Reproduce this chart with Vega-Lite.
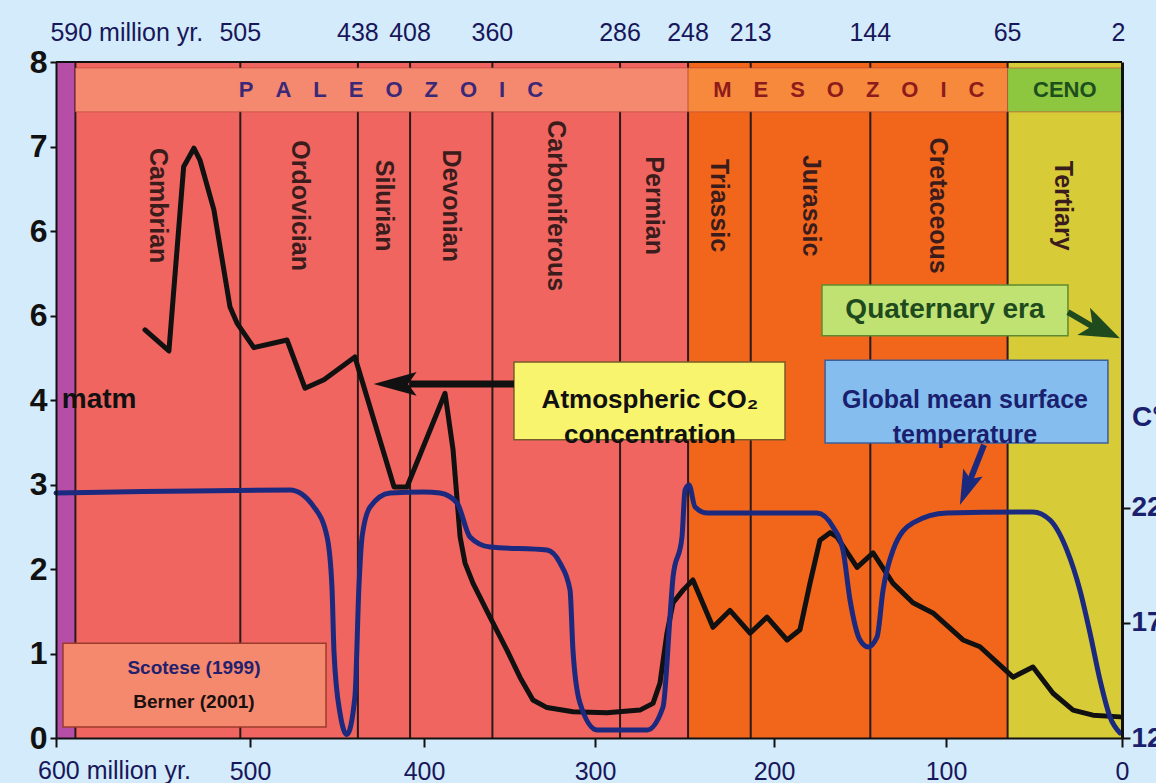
{
  "$schema": "https://vega.github.io/schema/vega-lite/v6.json",
  "width": 1066,
  "height": 676,
  "autosize": {"type": "none"},
  "padding": {"left": 56, "top": 62, "right": 34, "bottom": 45},
  "background": "#d3ebfa",
  "config": {"font": "Liberation Sans, Arial, sans-serif", "view": {"stroke": null}},
  "datasets": {
    "co2": [
      {"age": 554.1, "co2": 4.83}, {"age": 541.8, "co2": 4.58}, {"age": 534.2, "co2": 6.76}, {"age": 528.9, "co2": 6.98},
      {"age": 525.8, "co2": 6.84}, {"age": 518.6, "co2": 6.25}, {"age": 510.3, "co2": 5.10}, {"age": 506.7, "co2": 4.91},
      {"age": 497.8, "co2": 4.62}, {"age": 478.7, "co2": 4.71}, {"age": 468.4, "co2": 4.14}, {"age": 457.5, "co2": 4.24},
      {"age": 439.7, "co2": 4.51}, {"age": 417.2, "co2": 2.97}, {"age": 409.8, "co2": 2.97}, {"age": 387.7, "co2": 4.08},
      {"age": 383.0, "co2": 3.41}, {"age": 378.9, "co2": 2.38}, {"age": 376.0, "co2": 2.07}, {"age": 371.3, "co2": 1.83},
      {"age": 361.4, "co2": 1.43}, {"age": 351.5, "co2": 1.04}, {"age": 343.9, "co2": 0.72}, {"age": 336.3, "co2": 0.45},
      {"age": 328.1, "co2": 0.36}, {"age": 312.9, "co2": 0.31}, {"age": 293.3, "co2": 0.30}, {"age": 274.9, "co2": 0.33},
      {"age": 267.6, "co2": 0.41}, {"age": 263.7, "co2": 0.65}, {"age": 259.8, "co2": 1.24}, {"age": 256.4, "co2": 1.60},
      {"age": 250.8, "co2": 1.75}, {"age": 245.3, "co2": 1.87}, {"age": 234.1, "co2": 1.31}, {"age": 224.6, "co2": 1.51},
      {"age": 213.4, "co2": 1.24}, {"age": 203.9, "co2": 1.43}, {"age": 192.4, "co2": 1.16}, {"age": 184.9, "co2": 1.28},
      {"age": 179.1, "co2": 1.83}, {"age": 173.3, "co2": 2.34}, {"age": 167.4, "co2": 2.43}, {"age": 163.4, "co2": 2.38},
      {"age": 151.7, "co2": 2.02}, {"age": 142.4, "co2": 2.19}, {"age": 130.8, "co2": 1.83}, {"age": 119.2, "co2": 1.60},
      {"age": 107.6, "co2": 1.48}, {"age": 90.3, "co2": 1.16}, {"age": 80.7, "co2": 1.08}, {"age": 61.9, "co2": 0.72},
      {"age": 50.6, "co2": 0.84}, {"age": 39.2, "co2": 0.53}, {"age": 27.8, "co2": 0.33}, {"age": 16.5, "co2": 0.27},
      {"age": 1.1, "co2": 0.25}
    ],
    "temp": [
      {"age": 600, "temp": 22.65}, {"age": 477.0, "temp": 22.78}, {"age": 463.2, "temp": 22.04}, {"age": 455.7, "temp": 20.74},
      {"age": 452.9, "temp": 18.57}, {"age": 451.7, "temp": 15.70}, {"age": 448.3, "temp": 13.09}, {"age": 444.3, "temp": 12.15},
      {"age": 439.7, "temp": 13.78}, {"age": 437.4, "temp": 18.57}, {"age": 435.6, "temp": 20.74}, {"age": 431.0, "temp": 22.04},
      {"age": 419.5, "temp": 22.65}, {"age": 400.0, "temp": 22.70}, {"age": 390.6, "temp": 22.65}, {"age": 380.7, "temp": 22.22},
      {"age": 373.1, "temp": 20.74}, {"age": 361.4, "temp": 20.30}, {"age": 328.1, "temp": 20.17}, {"age": 320.5, "temp": 19.61},
      {"age": 314.6, "temp": 18.43}, {"age": 312.9, "temp": 15.83}, {"age": 308.8, "temp": 13.52}, {"age": 298.9, "temp": 12.35},
      {"age": 270.9, "temp": 12.35}, {"age": 262.0, "temp": 13.35}, {"age": 258.1, "temp": 17.26}, {"age": 256.4, "temp": 19.0},
      {"age": 251.4, "temp": 20.74}, {"age": 249.7, "temp": 22.78}, {"age": 247.5, "temp": 23.0}, {"age": 244.1, "temp": 22.04},
      {"age": 237.4, "temp": 21.78}, {"age": 224.6, "temp": 21.78}, {"age": 175.0, "temp": 21.78}, {"age": 165.7, "temp": 21.17},
      {"age": 159.9, "temp": 20.17}, {"age": 155.8, "temp": 18.0}, {"age": 150.0, "temp": 16.26}, {"age": 145.3, "temp": 15.96},
      {"age": 140.1, "temp": 16.39}, {"age": 136.6, "temp": 18.43}, {"age": 130.8, "temp": 20.17}, {"age": 119.2, "temp": 21.35},
      {"age": 99.4, "temp": 21.78}, {"age": 50.6, "temp": 21.83}, {"age": 40.9, "temp": 21.48}, {"age": 31.3, "temp": 20.17},
      {"age": 23.9, "temp": 18.43}, {"age": 18.2, "temp": 16.57}, {"age": 12.5, "temp": 14.52}, {"age": 6.8, "temp": 12.91},
      {"age": 1.1, "temp": 12.22}
    ],
    "eras": [
      {"era": "Precambrian", "start": 600, "end": 590, "header": ""},
      {"era": "Paleozoic", "start": 590, "end": 248, "header": "P\u2003A\u2003L\u2003E\u2003O\u2003Z\u2003O\u2003I\u2003C"},
      {"era": "Mesozoic", "start": 248, "end": 65, "header": "M\u2003E\u2003S\u2003O\u2003Z\u2003O\u2003I\u2003C"},
      {"era": "Cenozoic", "start": 65, "end": 0, "header": "CENO"}
    ],
    "periods": [
      {"period": "Cambrian", "start": 590, "end": 505},
      {"period": "Ordovician", "start": 505, "end": 438},
      {"period": "Silurian", "start": 438, "end": 408},
      {"period": "Devonian", "start": 408, "end": 360},
      {"period": "Carboniferous", "start": 360, "end": 286},
      {"period": "Permian", "start": 286, "end": 248},
      {"period": "Triassic", "start": 248, "end": 213},
      {"period": "Jurassic", "start": 213, "end": 144},
      {"period": "Cretaceous", "start": 144, "end": 65},
      {"period": "Tertiary", "start": 65, "end": 2}
    ],
    "bounds": [
      {"age": 590, "label": "590 million yr."},
      {"age": 505, "label": "505"},
      {"age": 438, "label": "438"},
      {"age": 408, "label": "408"},
      {"age": 360, "label": "360"},
      {"age": 286, "label": "286"},
      {"age": 248, "label": "248"},
      {"age": 213, "label": "213"},
      {"age": 144, "label": "144"},
      {"age": 65, "label": "65"},
      {"age": 2, "label": "2"}
    ]
  },
  "resolve": {"scale": {"y": "independent"}, "axis": {"x": "independent"}},
  "layer": [
    {
      "data": {"name": "eras"},
      "mark": {"type": "rect"},
      "encoding": {
        "x": {"field": "start", "type": "quantitative", "scale": {"domain": [600, 500, 400, 300, 200, 100, 0], "range": [0, 194, 368, 539, 718, 890, 1066], "nice": false, "zero": false}, "axis": null},
        "x2": {"field": "end"},
        "y": {"datum": 0, "type": "quantitative", "scale": {"domain": [0, 8], "nice": false}, "axis": null},
        "y2": {"datum": 8},
        "color": {"condition": [
          {"test": "datum.era === 'Precambrian'", "value": "#b64ea8"},
          {"test": "datum.era === 'Paleozoic'", "value": "#f06560"},
          {"test": "datum.era === 'Mesozoic'", "value": "#f2661c"}
        ], "value": "#d8cb38"}
      }
    },
    {
      "data": {"name": "bounds"},
      "transform": [{"filter": "datum.age > 2"}],
      "mark": {"type": "rule", "color": "#2b1a1a", "strokeWidth": 2},
      "encoding": {
        "x": {"field": "age", "type": "quantitative", "scale": {"domain": [600, 500, 400, 300, 200, 100, 0], "range": [0, 194, 368, 539, 718, 890, 1066], "nice": false, "zero": false}, "axis": null},
        "y": {"datum": 0, "type": "quantitative", "scale": {"domain": [0, 8], "nice": false}, "axis": null},
        "y2": {"datum": 8}
      }
    },
    {
      "data": {"name": "eras"},
      "transform": [{"filter": "datum.era !== 'Precambrian'"}],
      "mark": {"type": "rect", "stroke": "#b8483a", "strokeWidth": 1, "strokeOpacity": 0.6},
      "encoding": {
        "x": {"field": "start", "type": "quantitative", "scale": {"domain": [600, 500, 400, 300, 200, 100, 0], "range": [0, 194, 368, 539, 718, 890, 1066], "nice": false, "zero": false}, "axis": null},
        "x2": {"field": "end"},
        "y": {"datum": 7.41, "type": "quantitative", "scale": {"domain": [0, 8], "nice": false}, "axis": null},
        "y2": {"datum": 7.93},
        "color": {"condition": [
          {"test": "datum.era === 'Paleozoic'", "value": "#f5896f"},
          {"test": "datum.era === 'Mesozoic'", "value": "#f7893c"}
        ], "value": "#8dc63f"}
      }
    },
    {
      "data": {"name": "eras"},
      "transform": [{"filter": "datum.era !== 'Precambrian'"}, {"calculate": "(datum.start + datum.end) / 2", "as": "mid"}],
      "mark": {"type": "text", "fontSize": 22, "fontWeight": "bold", "align": "center", "baseline": "middle"},
      "encoding": {
        "x": {"field": "mid", "type": "quantitative", "scale": {"domain": [600, 500, 400, 300, 200, 100, 0], "range": [0, 194, 368, 539, 718, 890, 1066], "nice": false, "zero": false}, "axis": null},
        "y": {"datum": 7.67, "type": "quantitative", "scale": {"domain": [0, 8], "nice": false}, "axis": null},
        "text": {"field": "header"},
        "color": {"condition": [
          {"test": "datum.era === 'Paleozoic'", "value": "#3b2876"},
          {"test": "datum.era === 'Mesozoic'", "value": "#8e1b1b"}
        ], "value": "#1d4f1d"}
      }
    },
    {
      "data": {"name": "periods"},
      "transform": [{"calculate": "(datum.start + datum.end) / 2", "as": "mid"}],
      "mark": {"type": "text", "fontSize": 25, "fontWeight": "bold", "angle": 90, "align": "center", "baseline": "middle", "color": "#3a1c1c"},
      "encoding": {
        "x": {"field": "mid", "type": "quantitative", "scale": {"domain": [600, 500, 400, 300, 200, 100, 0], "range": [0, 194, 368, 539, 718, 890, 1066], "nice": false, "zero": false}, "axis": null},
        "y": {"datum": 6.3, "type": "quantitative", "scale": {"domain": [0, 8], "nice": false}, "axis": null},
        "text": {"field": "period"}
      }
    },
    {
      "data": {"name": "bounds"},
      "transform": [{"filter": "datum.age !== 590"}],
      "mark": {"type": "text", "fontSize": 25, "align": "center", "baseline": "middle", "dy": -29, "color": "#17175a"},
      "encoding": {
        "x": {"field": "age", "type": "quantitative", "scale": {"domain": [600, 500, 400, 300, 200, 100, 0], "range": [0, 194, 368, 539, 718, 890, 1066], "nice": false, "zero": false}, "axis": null},
        "y": {"datum": 8, "type": "quantitative", "scale": {"domain": [0, 8], "nice": false}, "axis": null},
        "text": {"field": "label"}
      }
    },
    {
      "data": {"name": "bounds"},
      "transform": [{"filter": "datum.age === 590"}],
      "mark": {"type": "text", "fontSize": 25, "align": "left", "baseline": "middle", "dy": -29, "dx": -25, "color": "#17175a"},
      "encoding": {
        "x": {"field": "age", "type": "quantitative", "scale": {"domain": [600, 500, 400, 300, 200, 100, 0], "range": [0, 194, 368, 539, 718, 890, 1066], "nice": false, "zero": false}, "axis": null},
        "y": {"datum": 8, "type": "quantitative", "scale": {"domain": [0, 8], "nice": false}, "axis": null},
        "text": {"field": "label"}
      }
    },
    {
      "data": {"values": [{}]},
      "mark": {"type": "text", "text": "600 million yr.", "fontSize": 25, "align": "left", "baseline": "top", "dy": 21, "dx": -18, "color": "#17175a"},
      "encoding": {
        "x": {"datum": 600, "type": "quantitative", "scale": {"domain": [600, 500, 400, 300, 200, 100, 0], "range": [0, 194, 368, 539, 718, 890, 1066], "nice": false, "zero": false}, "axis": null},
        "y": {"datum": 0, "type": "quantitative", "scale": {"domain": [0, 8], "nice": false}, "axis": null}
      }
    },
    {
      "data": {"values": [{}]},
      "mark": {"type": "rule", "color": "#111111", "strokeWidth": 2},
      "encoding": {"y": {"datum": 8, "type": "quantitative", "scale": {"domain": [0, 8], "nice": false}, "axis": null}}
    },
    {
      "data": {"values": [{}]},
      "mark": {"type": "rect", "fill": "#f4896d", "stroke": "#9b3b2b", "strokeWidth": 1.5},
      "encoding": {
        "x": {"datum": 596.4, "type": "quantitative", "scale": {"domain": [600, 500, 400, 300, 200, 100, 0], "range": [0, 194, 368, 539, 718, 890, 1066], "nice": false, "zero": false}, "axis": null},
        "x2": {"datum": 456.3},
        "y": {"datum": 0.13, "type": "quantitative", "scale": {"domain": [0, 8], "nice": false}, "axis": null},
        "y2": {"datum": 1.12}
      }
    },
    {
      "data": {"values": [{}]},
      "mark": {"type": "text", "text": "Scotese (1999)", "fontSize": 19, "fontWeight": "bold", "color": "#23206e", "align": "center", "baseline": "middle"},
      "encoding": {
        "x": {"datum": 528.9, "type": "quantitative", "scale": {"domain": [600, 500, 400, 300, 200, 100, 0], "range": [0, 194, 368, 539, 718, 890, 1066], "nice": false, "zero": false}, "axis": null},
        "y": {"datum": 0.83, "type": "quantitative", "scale": {"domain": [0, 8], "nice": false}, "axis": null}
      }
    },
    {
      "data": {"values": [{}]},
      "mark": {"type": "text", "text": "Berner (2001)", "fontSize": 19, "fontWeight": "bold", "color": "#1a1010", "align": "center", "baseline": "middle"},
      "encoding": {
        "x": {"datum": 528.9, "type": "quantitative", "scale": {"domain": [600, 500, 400, 300, 200, 100, 0], "range": [0, 194, 368, 539, 718, 890, 1066], "nice": false, "zero": false}, "axis": null},
        "y": {"datum": 0.43, "type": "quantitative", "scale": {"domain": [0, 8], "nice": false}, "axis": null}
      }
    },
    {
      "data": {"values": [{}]},
      "mark": {"type": "rect", "fill": "#f8f46e", "stroke": "#7a5b2a", "strokeWidth": 1.5},
      "encoding": {
        "x": {"datum": 347.4, "type": "quantitative", "scale": {"domain": [600, 500, 400, 300, 200, 100, 0], "range": [0, 194, 368, 539, 718, 890, 1066], "nice": false, "zero": false}, "axis": null},
        "x2": {"datum": 193.6},
        "y": {"datum": 3.53, "type": "quantitative", "scale": {"domain": [0, 8], "nice": false}, "axis": null},
        "y2": {"datum": 4.45}
      }
    },
    {
      "data": {"values": [{}]},
      "mark": {"type": "text", "text": ["Atmospheric CO₂", "concentration"], "lineHeight": 35, "fontSize": 26, "fontWeight": "bold", "color": "#111111", "align": "center", "baseline": "middle"},
      "encoding": {
        "x": {"datum": 269.3, "type": "quantitative", "scale": {"domain": [600, 500, 400, 300, 200, 100, 0], "range": [0, 194, 368, 539, 718, 890, 1066], "nice": false, "zero": false}, "axis": null},
        "y": {"datum": 3.995, "type": "quantitative", "scale": {"domain": [0, 8], "nice": false}, "axis": null}
      }
    },
    {
      "data": {"values": [{}]},
      "mark": {"type": "rect", "fill": "#85bdee", "stroke": "#3d5f9c", "strokeWidth": 1.5},
      "encoding": {
        "x": {"datum": 170.3, "type": "quantitative", "scale": {"domain": [600, 500, 400, 300, 200, 100, 0], "range": [0, 194, 368, 539, 718, 890, 1066], "nice": false, "zero": false}, "axis": null},
        "x2": {"datum": 8.0},
        "y": {"datum": 3.49, "type": "quantitative", "scale": {"domain": [0, 8], "nice": false}, "axis": null},
        "y2": {"datum": 4.47}
      }
    },
    {
      "data": {"values": [{}]},
      "mark": {"type": "text", "text": ["Global mean surface", "temperature"], "lineHeight": 35, "fontSize": 25, "fontWeight": "bold", "color": "#1a1f6e", "align": "center", "baseline": "middle"},
      "encoding": {
        "x": {"datum": 89.2, "type": "quantitative", "scale": {"domain": [600, 500, 400, 300, 200, 100, 0], "range": [0, 194, 368, 539, 718, 890, 1066], "nice": false, "zero": false}, "axis": null},
        "y": {"datum": 3.995, "type": "quantitative", "scale": {"domain": [0, 8], "nice": false}, "axis": null}
      }
    },
    {
      "data": {"values": [{}]},
      "mark": {"type": "rect", "fill": "#bfe272", "stroke": "#5f8a2e", "strokeWidth": 1.5},
      "encoding": {
        "x": {"datum": 172.1, "type": "quantitative", "scale": {"domain": [600, 500, 400, 300, 200, 100, 0], "range": [0, 194, 368, 539, 718, 890, 1066], "nice": false, "zero": false}, "axis": null},
        "x2": {"datum": 30.7},
        "y": {"datum": 4.76, "type": "quantitative", "scale": {"domain": [0, 8], "nice": false}, "axis": null},
        "y2": {"datum": 5.36}
      }
    },
    {
      "data": {"values": [{}]},
      "mark": {"type": "text", "text": "Quaternary era", "fontSize": 28, "fontWeight": "bold", "color": "#1e4a1e", "align": "center", "baseline": "middle"},
      "encoding": {
        "x": {"datum": 100.6, "type": "quantitative", "scale": {"domain": [600, 500, 400, 300, 200, 100, 0], "range": [0, 194, 368, 539, 718, 890, 1066], "nice": false, "zero": false}, "axis": null},
        "y": {"datum": 5.06, "type": "quantitative", "scale": {"domain": [0, 8], "nice": false}, "axis": null}
      }
    },
    {
      "data": {"values": [{}]},
      "mark": {"type": "rule", "color": "#111111", "strokeWidth": 7},
      "encoding": {
        "x": {"datum": 408.0, "type": "quantitative", "scale": {"domain": [600, 500, 400, 300, 200, 100, 0], "range": [0, 194, 368, 539, 718, 890, 1066], "nice": false, "zero": false}, "axis": null},
        "x2": {"datum": 347.4},
        "y": {"datum": 4.19, "type": "quantitative", "scale": {"domain": [0, 8], "nice": false}, "axis": null}
      }
    },
    {
      "data": {"values": [{}]},
      "mark": {"type": "point", "shape": "M-1,0L1,-0.55L0.6,0L1,0.55Z", "size": 1849, "filled": true, "opacity": 1, "color": "#111111", "strokeWidth": 0},
      "encoding": {
        "x": {"datum": 416.6, "type": "quantitative", "scale": {"domain": [600, 500, 400, 300, 200, 100, 0], "range": [0, 194, 368, 539, 718, 890, 1066], "nice": false, "zero": false}, "axis": null},
        "y": {"datum": 4.19, "type": "quantitative", "scale": {"domain": [0, 8], "nice": false}, "axis": null}
      }
    },
    {
      "data": {"values": [{}]},
      "mark": {"type": "rule", "color": "#1b2a7e", "strokeWidth": 6},
      "encoding": {
        "x": {"datum": 78.4, "type": "quantitative", "scale": {"domain": [600, 500, 400, 300, 200, 100, 0], "range": [0, 194, 368, 539, 718, 890, 1066], "nice": false, "zero": false}, "axis": null},
        "x2": {"datum": 87.5},
        "y": {"datum": 3.47, "type": "quantitative", "scale": {"domain": [0, 8], "nice": false}, "axis": null},
        "y2": {"datum": 2.99}
      }
    },
    {
      "data": {"values": [{}]},
      "mark": {"type": "point", "shape": "M0,1L-0.6,-1L0,-0.6L0.6,-1Z", "size": 1225, "angle": 22, "filled": true, "opacity": 1, "color": "#1b2a7e", "strokeWidth": 0},
      "encoding": {
        "x": {"datum": 88.4, "type": "quantitative", "scale": {"domain": [600, 500, 400, 300, 200, 100, 0], "range": [0, 194, 368, 539, 718, 890, 1066], "nice": false, "zero": false}, "axis": null},
        "y": {"datum": 2.95, "type": "quantitative", "scale": {"domain": [0, 8], "nice": false}, "axis": null}
      }
    },
    {
      "data": {"values": [{}]},
      "mark": {"type": "rule", "color": "#1e4a1e", "strokeWidth": 6},
      "encoding": {
        "x": {"datum": 30.7, "type": "quantitative", "scale": {"domain": [600, 500, 400, 300, 200, 100, 0], "range": [0, 194, 368, 539, 718, 890, 1066], "nice": false, "zero": false}, "axis": null},
        "x2": {"datum": 10.2},
        "y": {"datum": 5.04, "type": "quantitative", "scale": {"domain": [0, 8], "nice": false}, "axis": null},
        "y2": {"datum": 4.79}
      }
    },
    {
      "data": {"values": [{}]},
      "mark": {"type": "point", "shape": "M1,0L-1,-0.75L-0.5,0L-1,0.75Z", "size": 1600, "angle": 25, "filled": true, "opacity": 1, "color": "#1e4a1e", "strokeWidth": 0},
      "encoding": {
        "x": {"datum": 11.5, "type": "quantitative", "scale": {"domain": [600, 500, 400, 300, 200, 100, 0], "range": [0, 194, 368, 539, 718, 890, 1066], "nice": false, "zero": false}, "axis": null},
        "y": {"datum": 4.83, "type": "quantitative", "scale": {"domain": [0, 8], "nice": false}, "axis": null}
      }
    },
    {
      "data": {"values": [{}]},
      "mark": {"type": "text", "text": "matm", "fontSize": 28, "fontWeight": "bold", "color": "#111111", "align": "left", "baseline": "middle"},
      "encoding": {
        "x": {"datum": 597, "type": "quantitative", "scale": {"domain": [600, 500, 400, 300, 200, 100, 0], "range": [0, 194, 368, 539, 718, 890, 1066], "nice": false, "zero": false}, "axis": null},
        "y": {"datum": 4.0, "type": "quantitative", "scale": {"domain": [0, 8], "nice": false}, "axis": null}
      }
    },
    {
      "data": {"values": [{}]},
      "mark": {"type": "text", "text": "C°", "fontSize": 28, "fontWeight": "bold", "color": "#1a1f6e", "align": "left", "baseline": "middle", "dx": 10},
      "encoding": {
        "x": {"datum": 0, "type": "quantitative", "scale": {"domain": [600, 500, 400, 300, 200, 100, 0], "range": [0, 194, 368, 539, 718, 890, 1066], "nice": false, "zero": false}, "axis": null},
        "y": {"datum": 3.79, "type": "quantitative", "scale": {"domain": [0, 8], "nice": false}, "axis": null}
      }
    },
    {
      "data": {"name": "co2"},
      "mark": {"type": "line", "color": "#111111", "strokeWidth": 5, "strokeJoin": "round", "strokeCap": "round"},
      "encoding": {
        "x": {
          "field": "age", "type": "quantitative",
          "scale": {"domain": [600, 500, 400, 300, 200, 100, 0], "range": [0, 194, 368, 539, 718, 890, 1066], "nice": false, "zero": false},
          "axis": {
            "orient": "bottom", "values": [600, 500, 400, 300, 200, 100, 0], "title": null, "grid": false, "zindex": 1,
            "labelExpr": "datum.value == 600 ? '' : datum.label",
            "labelFlush": false, "labelOverlap": false, "labelBound": false,
            "labelFontSize": 25, "labelColor": "#17175a", "labelPadding": 12,
            "tickSize": 9, "tickWidth": 2, "tickColor": "#111111",
            "domainColor": "#111111", "domainWidth": 2
          }
        },
        "y": {
          "field": "co2", "type": "quantitative",
          "scale": {"domain": [0, 8], "nice": false},
          "axis": {
            "orient": "left", "values": [0, 1, 2, 3, 4, 5, 6, 7, 8], "title": null, "grid": false, "zindex": 1,
            "labelExpr": "datum.value == 5 ? '6' : datum.label",
            "labelFontSize": 32, "labelFontWeight": "bold", "labelColor": "#111111", "labelPadding": 3,
            "labelOverlap": false, "labelFlush": false,
            "tickSize": 6, "tickWidth": 2, "tickColor": "#111111",
            "domainColor": "#111111", "domainWidth": 2
          }
        }
      }
    },
    {
      "data": {"name": "temp"},
      "mark": {"type": "line", "color": "#1b2a7e", "strokeWidth": 5, "interpolate": "monotone", "strokeJoin": "round", "strokeCap": "round"},
      "encoding": {
        "x": {"field": "age", "type": "quantitative", "scale": {"domain": [600, 500, 400, 300, 200, 100, 0], "range": [0, 194, 368, 539, 718, 890, 1066], "nice": false, "zero": false}, "axis": null},
        "y": {
          "field": "temp", "type": "quantitative",
          "scale": {"domain": [12, 41.39], "nice": false, "zero": false},
          "axis": {
            "orient": "right", "values": [12, 17, 22], "title": null, "grid": false, "zindex": 1,
            "labelFontSize": 28, "labelFontWeight": "bold", "labelColor": "#1a1f6e", "labelPadding": 1,
            "labelOverlap": false, "labelFlush": false,
            "tickSize": 8, "tickWidth": 2, "tickColor": "#111111",
            "domainColor": "#111111", "domainWidth": 3
          }
        }
      }
    }
  ]
}
